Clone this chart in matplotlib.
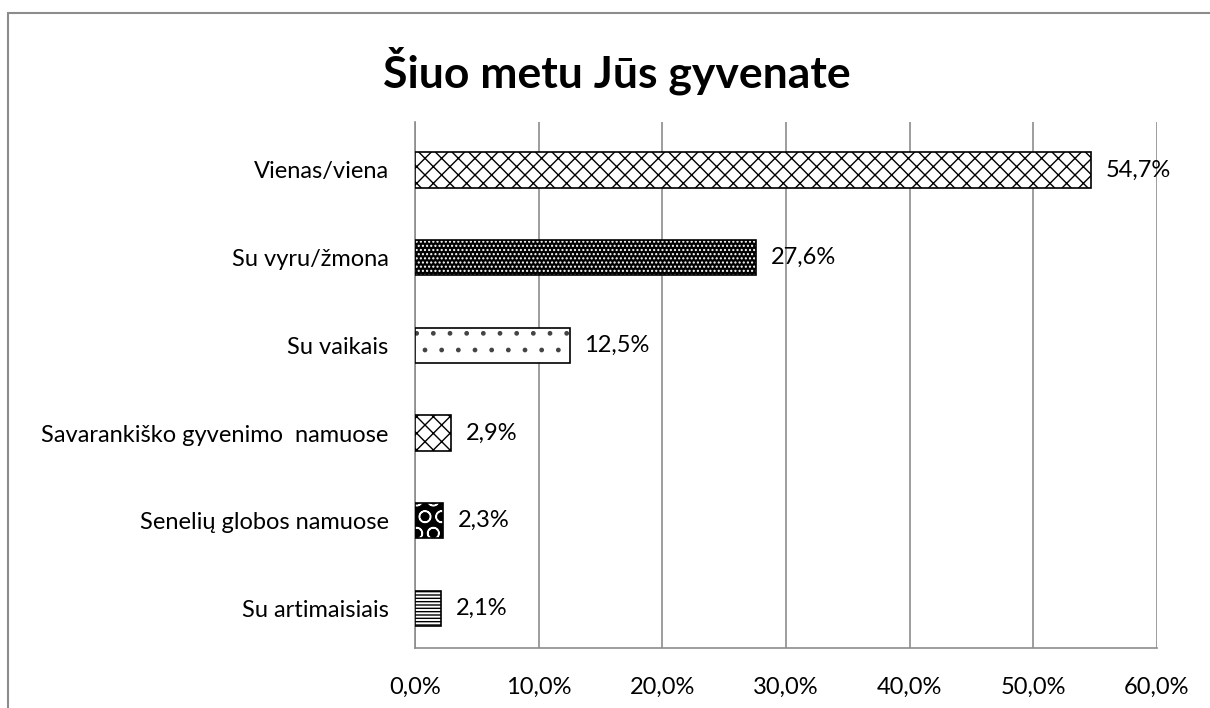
import matplotlib.pyplot as plt
from matplotlib.patches import Rectangle

# Data
categories = [
    "Vienas/viena",
    "Su vyru/žmona",
    "Su vaikais",
    "Savarankiško gyvenimo  namuose",
    "Senelių globos namuose",
    "Su artimaisiais",
]
values = [54.7, 27.6, 12.5, 2.9, 2.3, 2.1]
value_labels = ["54,7%", "27,6%", "12,5%", "2,9%", "2,3%", "2,1%"]
x_ticks = [0, 10, 20, 30, 40, 50, 60]
x_tick_labels = ["0,0%", "10,0%", "20,0%", "30,0%", "40,0%", "50,0%", "60,0%"]

# bar styles: (face, hatch colour, hatch)
styles = [
    ("white", "black", "xx"),
    ("black", "white", "...."),
    ("white", "#444444", "."),
    ("white", "black", "\\\\//"),
    ("black", "white", "O"),
    ("white", "black", "-----"),
]

plt.rcParams["font.family"] = ["Lato", "DejaVu Sans"]
plt.rcParams["hatch.linewidth"] = 1.0

fig = plt.figure(figsize=(12.1, 7.08), dpi=100)
ax = fig.add_axes([0.343, 0.085, 0.613, 0.743])

ypos = list(range(len(categories)))[::-1]
for y, v, (fc, hc, h) in zip(ypos, values, styles):
    ax.barh(y, v, height=0.40, color=fc, edgecolor=hc, hatch=h, linewidth=0, zorder=3)
    ax.barh(y, v, height=0.40, color="none", edgecolor="black", linewidth=1.2, zorder=4)

for y, v, lab in zip(ypos, values, value_labels):
    ax.text(v + 1.2, y, lab, va="center", ha="left", fontsize=17)

ax.set_xlim(0, 60)
ax.set_ylim(-0.45, len(categories) - 0.45)
ax.set_xticks(x_ticks)
ax.set_xticklabels(x_tick_labels, fontsize=17)
ax.set_yticks(ypos)
ax.set_yticklabels(categories, fontsize=17)
ax.tick_params(axis="y", length=0, pad=19)
ax.tick_params(axis="x", length=0, pad=21)
ax.grid(True, axis="x", color="#8c8c8c", linewidth=1.2, zorder=0)
for s in ["top", "right"]:
    ax.spines[s].set_visible(False)
for s in ["left", "bottom"]:
    ax.spines[s].set_color("#8c8c8c")
    ax.spines[s].set_linewidth(1.2)

fig.text(0.51, 0.9, "Šiuo metu Jūs gyvenate", ha="center", va="center",
         fontsize=32, fontweight="bold")

# outer chart border (partly cut off in the original)
fig.patches.append(Rectangle((8 / 1210, -0.1), 1.2, 1 - 13 / 708 + 0.1,
                             transform=fig.transFigure, fill=False,
                             edgecolor="#8c8c8c", linewidth=1.5))

plt.savefig("out.png", dpi=100)
